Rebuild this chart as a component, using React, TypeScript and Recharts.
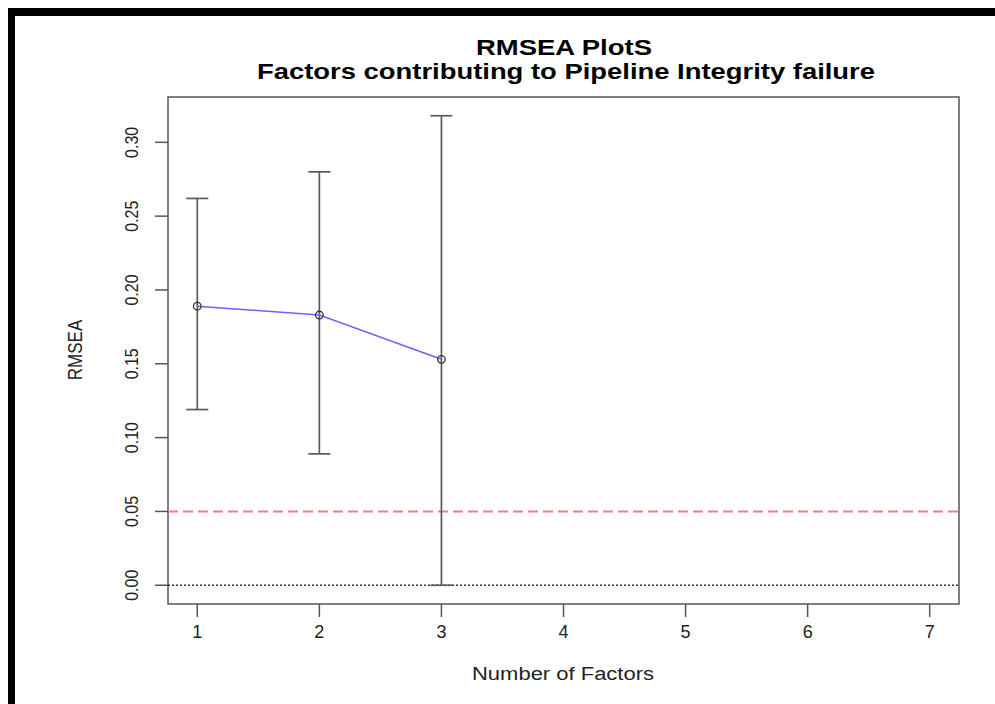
import {
  ComposedChart,
  ErrorBar,
  Line,
  ReferenceArea,
  ReferenceLine,
  Scatter,
  XAxis,
  YAxis,
} from "recharts";

// RMSEA by number of factors, with lower / upper bounds of the interval
const factors = [1, 2, 3];
const rmsea = [0.189, 0.183, 0.153];
const lower = [0.119, 0.089, 0.0];
const upper = [0.262, 0.28, 0.318];

const xTicks = [1, 2, 3, 4, 5, 6, 7];
const yTicks = [0, 0.05, 0.1, 0.15, 0.2, 0.25, 0.3];

const X_DOMAIN: [number, number] = [0.76, 7.24];
const Y_DOMAIN: [number, number] = [-0.0127, 0.3307];

const INK = "#222";
const AXIS = "#555";
const FONT = "'Liberation Sans', Arial, sans-serif";

const rows = factors.map((f, i) => ({
  factors: f,
  rmsea: rmsea[i],
  err: [rmsea[i] - lower[i], upper[i] - rmsea[i]],
}));

function YTick({ x, y, payload }: any) {
  return (
    <text
      transform={`translate(${x},${y}) scale(1.2,1) rotate(-90)`}
      textAnchor="middle"
      fontSize={16}
      fontFamily={FONT}
      fill={INK}
    >
      {Number(payload.value).toFixed(2)}
    </text>
  );
}

function XTick({ x, y, payload }: any) {
  return (
    <text x={x} y={y} dy="0.71em" textAnchor="middle" fontSize={18} fontFamily={FONT} fill={INK}>
      {payload.value}
    </text>
  );
}

export default function App() {
  return (
    <div
      style={{
        position: "absolute",
        left: 0,
        top: 0,
        width: 995,
        height: 704,
        background: "#fff",
        overflow: "hidden",
      }}
    >
      <div style={{ position: "absolute", left: 8, top: 8, width: 987, height: 8, background: "#000" }} />
      <div style={{ position: "absolute", left: 8, top: 8, width: 7, height: 696, background: "#000" }} />
      <div style={{ position: "absolute", left: 0, top: 0 }}>
        <ComposedChart
          width={995}
          height={704}
          data={rows}
          margin={{ top: 97, right: 36, bottom: 40, left: 108 }}
        >
          <XAxis
            type="number"
            dataKey="factors"
            domain={X_DOMAIN}
            ticks={xTicks}
            allowDataOverflow
            height={60}
            tickSize={13}
            tickMargin={8}
            axisLine={false}
            tickLine={{ stroke: AXIS, strokeWidth: 1.5 }}
            tick={<XTick />}
          />
          <YAxis
            type="number"
            domain={Y_DOMAIN}
            ticks={yTicks}
            allowDataOverflow
            width={60}
            tickSize={13}
            tickMargin={17}
            axisLine={false}
            tickLine={{ stroke: AXIS, strokeWidth: 1.5 }}
            tick={<YTick />}
          />
          <ReferenceArea
            x1={X_DOMAIN[0]}
            x2={X_DOMAIN[1]}
            y1={Y_DOMAIN[0]}
            y2={Y_DOMAIN[1]}
            fill="none"
            stroke={AXIS}
            strokeWidth={1.5}
          />
          <ReferenceLine y={0.05} stroke="#ff7a7a" strokeWidth={2} strokeDasharray="10 5" />
          <ReferenceLine y={0} stroke="#333" strokeWidth={1.3} strokeDasharray="2 2" />
          <Scatter dataKey="rmsea" shape={() => null} isAnimationActive={false}>
            <ErrorBar dataKey="err" direction="y" width={11} stroke="#5a5a5a" strokeWidth={1.7} />
          </Scatter>
          <Line
            dataKey="rmsea"
            type="linear"
            stroke="#6666ff"
            strokeWidth={1.6}
            dot={{ r: 3.8, stroke: "#333", strokeWidth: 1.3, fill: "none" }}
            isAnimationActive={false}
          />
        </ComposedChart>
      </div>
      <svg
        width={995}
        height={704}
        style={{ position: "absolute", left: 0, top: 0, pointerEvents: "none" }}
        fontFamily={FONT}
      >
        <text x={564} y={55} textAnchor="middle" fontSize={22} fontWeight="bold" fill="#000" textLength={176} lengthAdjust="spacingAndGlyphs">
          RMSEA PlotS
        </text>
        <text x={566} y={79} textAnchor="middle" fontSize={22} fontWeight="bold" fill="#000" textLength={618} lengthAdjust="spacingAndGlyphs">
          Factors contributing to Pipeline Integrity failure
        </text>
        <text x={563} y={680} textAnchor="middle" fontSize={18} fill={INK} textLength={182} lengthAdjust="spacingAndGlyphs">
          Number of Factors
        </text>
        <text
          transform="translate(82,350) scale(1.2,1) rotate(-90)"
          textAnchor="middle"
          fontSize={17}
          fill={INK}
        >
          RMSEA
        </text>
      </svg>
    </div>
  );
}
